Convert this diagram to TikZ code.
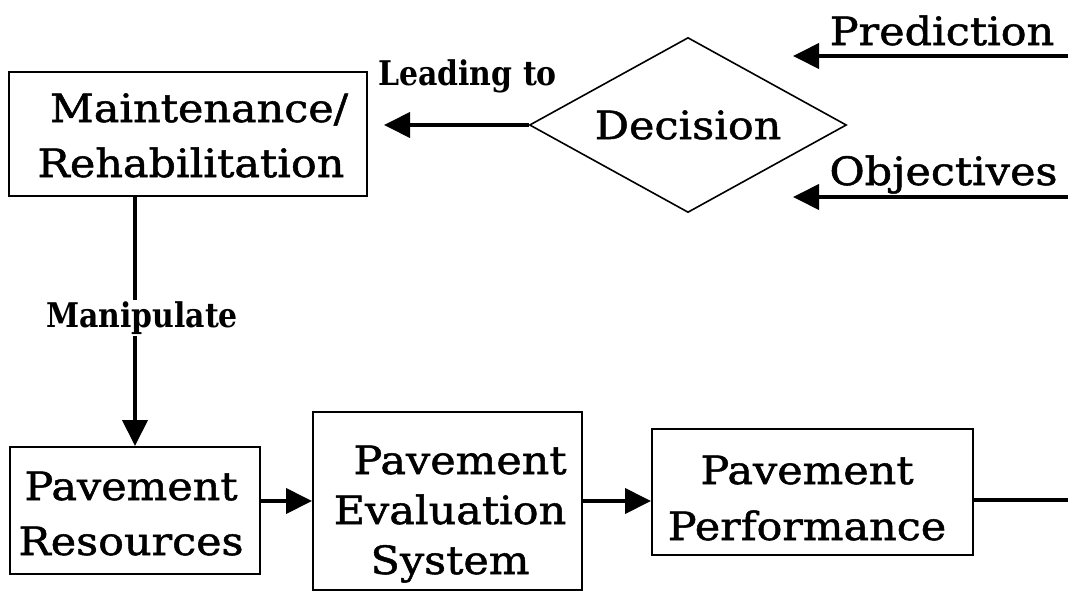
\documentclass[tikz,border=0pt]{standalone}
\usepackage{fontspec}
\setmainfont{DejaVu Serif}[FakeStretch=1.1, FakeBold=1.3]
\newfontfamily\lblfont{DejaVu Serif}[FakeStretch=0.88]
\usetikzlibrary{arrows.meta,shapes.geometric}
\begin{document}
\begin{tikzpicture}[x=1pt,y=-1pt,
  box/.style={draw, line width=2pt, inner sep=0pt},
  txt/.style={anchor=base, inner sep=0pt, font=\fontsize{39}{55}\selectfont},
  conn/.style={line width=4pt, -{Triangle[length=26pt,width=25pt]}},
  plainline/.style={line width=4pt},
  lbl/.style={font=\lblfont\bfseries\fontsize{34}{40}\selectfont, inner sep=0pt}]
\useasboundingbox (0,0) rectangle (1068,592);
% boxes
\node[box, minimum width=358pt, minimum height=124pt] (maint) at (188,134) {};
\node[txt] (maintT) at (191,122) {\begin{tabular}[t]{@{}c@{}}\hspace*{16pt}Maintenance/\\Rehabilitation\end{tabular}};
\node[draw, diamond, aspect=1.8, line width=1.6pt, minimum width=317pt, minimum height=175pt, inner sep=0pt,
      font=\fontsize{39}{55}\selectfont] (dec) at (688,125) {Decision};
\node[box, minimum width=250pt, minimum height=127pt] (pr) at (135,510.5) {};
\node[txt] (prT) at (131,500) {\begin{tabular}[t]{@{}c@{}}Pavement\\Resources\end{tabular}};
\node[box, minimum width=269pt, minimum height=178pt] (ev) at (447.5,501) {};
\node[txt, font=\fontsize{39}{50}\selectfont] (evT) at (450,474) {\begin{tabular}[t]{@{}c@{}}\hspace*{20pt}Pavement\\Evaluation\\System\end{tabular}};
\node[box, minimum width=321pt, minimum height=126pt] (perf) at (812.5,492) {};
\node[txt, font=\fontsize{39}{56}\selectfont] (perfT) at (807,484) {\begin{tabular}[t]{@{}c@{}}Pavement\\Performance\end{tabular}};
% free ends
\coordinate (predS) at (1068,56);
\coordinate (predE) at (793,56);
\coordinate (objS) at (1068,197);
\coordinate (objE) at (793,197);
\coordinate (perfO) at (1068,500);
% texts
\node[txt] (pred) at (942,45) {Prediction};
\node[txt] (obj) at (943.5,185) {Objectives};
\node[lbl, anchor=base west] (lead) at (378,85) {Leading to};
% connectors
\draw[conn] (predS) -- (predE);
\draw[conn] (objS) -- (objE);
\draw[conn, shorten >=16pt] (dec.west) -- (dec.west -| maint.east);
\draw[conn] (maint.south -| pr.north) -- node[lbl, fill=white, inner ysep=2pt, xshift=7pt, pos=0.486] (manip) {Manipulate} (pr.north);
\draw[conn] (ev.west -| pr.east) -- (ev.west);
\draw[conn] (ev.east) -- (ev.east -| perf.west);
\draw[plainline] (perfO -| perf.east) -- (perfO);
\end{tikzpicture}
\end{document}
